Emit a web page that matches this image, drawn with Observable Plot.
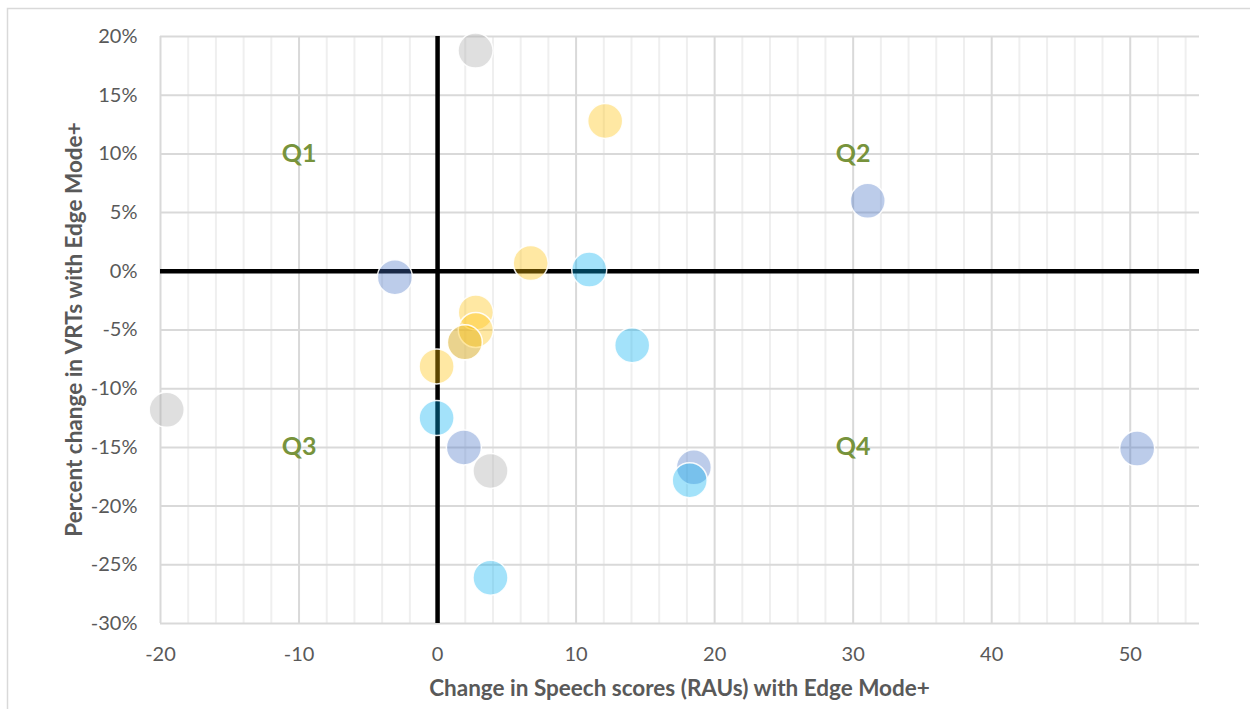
<!DOCTYPE html>
<html>
<head>
<meta charset="utf-8">
<script src="https://cdn.jsdelivr.net/npm/d3@7"></script>
<script src="https://cdn.jsdelivr.net/npm/@observablehq/plot@0.6"></script>
<style>
  html, body { margin: 0; padding: 0; background: #fff; }
  #chart { width: 1250px; height: 709px; overflow: hidden; }
</style>
</head>
<body>
<div id="chart"></div>
<script>
// ---- data (x = change in speech score RAUs, y = % change in VRTs) ----
const grayX   = [2.74, -19.55, 3.82, 1.97];
const grayY   = [18.8, -11.8, -17.0, -6.05];
const yellowX = [12.1, 6.72, 2.76, 2.76, -0.07, 1.97];
const yellowY = [12.8, 0.7, -3.5, -5.0, -8.1, -6.05];
const blueX   = [-3.08, 31.05, 1.9, 18.5, 50.5];
const blueY   = [-0.5, 6.0, -15.0, -16.7, -15.1];
const cyanX   = [10.95, 14.05, -0.07, 3.82, 18.2];
const cyanY   = [0.15, -6.3, -12.5, -26.1, -17.8];

const xTicks = [-20, -10, 0, 10, 20, 30, 40, 50];
const xMinor = [-18, -16, -14, -12, -8, -6, -4, -2, 2, 4, 6, 8, 12, 14, 16, 18, 22, 24, 26, 28, 32, 34, 36, 38, 42, 44, 46, 48, 52, 54];
const yTicks = [-30, -25, -20, -15, -10, -5, 0, 5, 10, 15, 20];

const quadLabels = ["Q1", "Q2", "Q3", "Q4"];
const quadX = [-10, 30, -10, 30];
const quadY = [10, 10, -15, -15];

const xTitle = "Change in Speech scores (RAUs) with Edge Mode+";
const yTitle = "Percent change in VRTs with Edge Mode+";

const toPts = (xs, ys) => xs.map((x, i) => ({x, y: ys[i]}));
const series = [
  {pts: toPts(grayX, grayY), color: "#A5A5A5"},
  {pts: toPts(yellowX, yellowY), color: "#FFC000"},
  {pts: toPts(blueX, blueY), color: "#4472C4"},
  {pts: toPts(cyanX, cyanY), color: "#00B0F0"}
];
const quads = quadLabels.map((t, i) => ({t, x: quadX[i], y: quadY[i]}));

const W = 1250, H = 709;
const chart = Plot.plot({
  width: W,
  height: H,
  marginLeft: 160,
  marginRight: 51,
  marginTop: 36,
  marginBottom: 86,
  style: {fontFamily: "Lato, 'Open Sans', sans-serif", fontSize: "20px", color: "#595959", background: "white", overflow: "visible"},
  x: {domain: [-20, 55], ticks: xTicks, tickSize: 0, tickPadding: 23, tickFormat: d => String(d), label: null},
  y: {domain: [-30, 20], ticks: yTicks, tickSize: 0, tickPadding: 23, tickFormat: d => String(d) + "%", label: null},
  marks: [
    Plot.ruleX(xMinor, {stroke: "#EFEFEF", strokeWidth: 2}),
    Plot.ruleX(xTicks, {stroke: "#D9D9D9", strokeWidth: 2}),
    Plot.ruleY(yTicks, {stroke: "#D9D9D9", strokeWidth: 2}),
    Plot.ruleY([0], {stroke: "black", strokeWidth: 4.5}),
    Plot.ruleX([0], {stroke: "black", strokeWidth: 4.5}),
    ...series.map(s => Plot.dot(s.pts, {x: "x", y: "y", r: 17.5, fill: s.color, fillOpacity: 0.36, stroke: "white", strokeWidth: 1.5, strokeOpacity: 0.9})),
    Plot.text(quads, {x: "x", y: "y", text: "t", fill: "#77933C", fontWeight: "bold", fontSize: 25, textAnchor: "middle"})
  ]
});

const svg = d3.select(chart);
// outer chart border
svg.insert("rect", ":first-child")
  .attr("x", 7.5).attr("y", 8.5).attr("width", W).attr("height", H)
  .attr("fill", "none").attr("stroke", "#D9D9D9").attr("stroke-width", 1.5);
// axis titles
const xs = chart.scale("x");
const cx = (xs.apply(-20) + xs.apply(55)) / 2;
svg.append("text").text(xTitle)
  .attr("x", cx).attr("y", 696)
  .attr("text-anchor", "middle").attr("font-weight", "bold").attr("font-size", 22.5)
  .attr("fill", "#595959");
const ys = chart.scale("y");
const cy = (ys.apply(-30) + ys.apply(20)) / 2;
svg.append("text").text(yTitle)
  .attr("transform", `translate(82,${cy}) rotate(-90)`)
  .attr("text-anchor", "middle").attr("font-weight", "bold").attr("font-size", 22.5)
  .attr("fill", "#595959");

document.getElementById("chart").appendChild(chart);
</script>
</body>
</html>
